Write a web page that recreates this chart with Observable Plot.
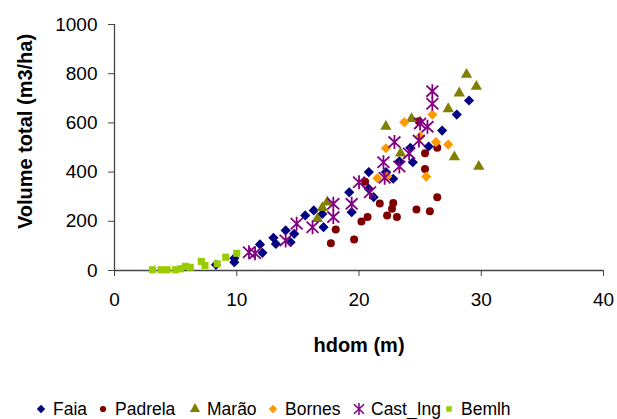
<!DOCTYPE html>
<html><head><meta charset="utf-8">
<script src="https://cdn.jsdelivr.net/npm/d3@7"></script>
<script src="https://cdn.jsdelivr.net/npm/@observablehq/plot@0.6"></script>
<style>
body{margin:0;background:#fff;font-family:"Liberation Sans",Arial,sans-serif}
#legend{position:relative;height:24px;width:617px}
.item{position:absolute;top:0;height:24px;display:flex;align-items:center;font-size:17.5px;color:#000;white-space:nowrap}
.item svg{margin-right:6px}
</style></head>
<body><div id="chart"></div><div id="legend"></div>
<script>
const seriesNames = ["Faia","Padrela","Marão","Bornes","Cast_Ing","Bemlh"];
const xTicks = [0,10,20,30,40];
const yTicks = [0,200,400,600,800,1000];

const faia = [[8.3,23],[9.8,50],[9.8,34],[11.9,106],[12.1,72],[13.0,133],[13.2,108],[14.0,163],[14.4,115],[14.7,149],[15.6,224],[16.3,244],[17.0,230],[17.1,176],[19.2,318],[19.4,237],[20.8,400],[20.8,332],[21.2,298],[22.2,400],[22.8,373],[23.3,444],[24.2,499],[24.4,440],[25.7,504],[26.8,569],[28.0,634],[29.0,691]];
const padrela = [[17.7,111],[18.1,167],[19.6,126],[20.2,199],[20.5,361],[20.7,217],[21.7,272],[22.3,224],[22.7,251],[22.8,274],[23.1,217],[24.7,248],[24.9,607],[25.4,477],[25.4,413],[25.8,241],[26.4,499],[26.4,298]];
const marao = [[16.6,210],[17.0,255],[17.4,278],[22.2,585],[23.4,477],[24.3,617],[27.3,657],[27.8,461],[28.2,721],[28.8,797],[29.6,748],[29.8,423]];
const bornes = [[21.5,375],[22.3,382],[22.2,497],[23.7,603],[25.0,545],[25.5,382],[26.0,634],[26.3,522],[27.3,512]];
const castIng = [[11.0,74],[11.5,70],[14.0,122],[14.9,190],[16.2,176],[17.9,217],[17.9,271],[19.4,271],[20.0,359],[20.9,318],[22.0,440],[22.1,377],[22.9,522],[23.3,423],[24.1,476],[24.9,528],[25.0,598],[25.6,584],[26.0,678],[26.0,729]];
const bemlh = [[3.1,3],[3.8,3],[4.3,3],[5.0,3],[5.4,7],[5.8,17],[6.2,13],[7.1,37],[7.4,20],[8.4,27],[9.1,54],[10.0,70]];

// Excel-like star marker: vertical bar plus an X
const starSymbol = {
  draw(context, size) {
    const r = Math.sqrt(size / Math.PI);
    context.moveTo(0, -r); context.lineTo(0, r);
    context.moveTo(-0.85 * r, -0.8 * r); context.lineTo(0.85 * r, 0.8 * r);
    context.moveTo(-0.85 * r, 0.8 * r); context.lineTo(0.85 * r, -0.8 * r);
  }
};

const seriesData = [faia, padrela, marao, bornes, castIng, bemlh];
const seriesColors = ["#000080","#800000","#808000","#FF9900","#800080","#99CC00"];
const seriesSymbols = ["diamond2","circle","triangle","diamond2","star","square"];
const seriesR = [4.6,4,4.2,4.6,7,4];
const symbolFor = s => s === "star" ? starSymbol : s;

const dotMarks = seriesData.map((data, i) => {
  const stroked = seriesSymbols[i] === "star";
  return Plot.dot(data, {
    x: d => d[0], y: d => d[1],
    symbol: symbolFor(seriesSymbols[i]), r: seriesR[i],
    fill: stroked ? "none" : seriesColors[i],
    stroke: stroked ? seriesColors[i] : "none",
    strokeWidth: stroked ? 1.8 : 0
  });
});

const chart = Plot.plot({
  width: 617, height: 397,
  marginLeft: 114, marginRight: 14, marginTop: 24, marginBottom: 127,
  style: {fontFamily: '"Liberation Sans", Arial, sans-serif', background: "#fff", color: "#000", overflow: "visible"},
  x: {domain: [0,40]},
  y: {domain: [0,1000]},
  marks: [
    Plot.axisX({ticks: xTicks, tickSize: 6, tickPadding: 16, fontSize: 19, label: null, stroke: "#444", tickFormat: d => String(d)}),
    Plot.axisY({ticks: yTicks, tickSize: 6, tickPadding: 11, fontSize: 19, label: null, stroke: "#444", tickFormat: d => String(d)}),
    Plot.ruleY([0], {stroke: "#444", strokeWidth: 1.3}),
    Plot.ruleX([0], {stroke: "#444", strokeWidth: 1.3}),
    ...dotMarks,
    Plot.text(["hdom (m)"], {frameAnchor: "bottom", dy: 75, fontSize: 20, fontWeight: "bold", fill: "#000", lineAnchor: "middle", textAnchor: "middle"}),
    Plot.text(["Volume total (m3/ha)"], {frameAnchor: "left", dx: -89, dy: -16, rotate: -90, fontSize: 20, fontWeight: "bold", fill: "#000", lineAnchor: "middle", textAnchor: "middle"})
  ]
});
document.getElementById("chart").appendChild(chart);

const legend = document.getElementById("legend");
const legendCenters = [41,103,195,273,359,449];
const legendSizes = [45,30,45,45,110,30];
seriesNames.forEach((name, i) => {
  const item = document.createElement("div");
  item.className = "item";
  item.style.left = (legendCenters[i] - 6) + "px";
  const sym = {diamond2: d3.symbolDiamond2, circle: d3.symbolCircle, triangle: d3.symbolTriangle, star: starSymbol, square: d3.symbolSquare}[seriesSymbols[i]];
  const path = d3.symbol(sym, legendSizes[i])();
  const stroked = seriesSymbols[i] === "star";
  item.innerHTML = `<svg width="12" height="14" viewBox="-6 -7 12 14"><path d="${path}" fill="${stroked ? "none" : seriesColors[i]}" stroke="${stroked ? seriesColors[i] : "none"}" stroke-width="1.5"/></svg><span>${name}</span>`;
  legend.appendChild(item);
});
</script></body></html>
